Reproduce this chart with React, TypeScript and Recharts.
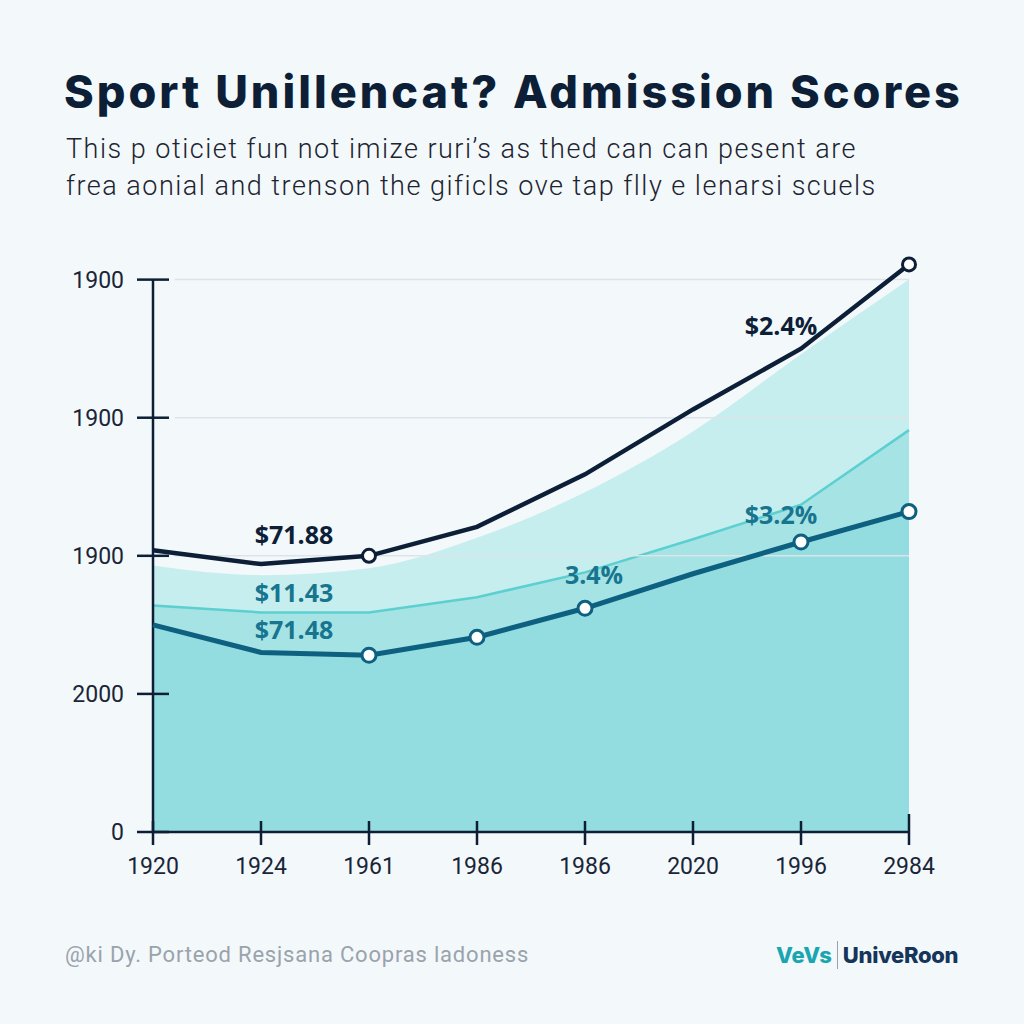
import { ComposedChart, Area, Line, XAxis, YAxis, ReferenceLine } from 'recharts';

const xLabels = ['1920', '1924', '1961', '1986', '1986', '2020', '1996', '2984'];
const yTickValues = [0, 1, 2, 3, 4];
const yTickLabels = ['0', '2000', '1900', '1900', '1900'];
const gridValues = [2, 3, 4];

// score series (axis units)
const topLine = [2.04, 1.94, 2.0, 2.21, 2.59, 3.06, 3.5, 4.11];
const lightBand = [1.93, 1.86, 1.91, 2.13, 2.46, 2.9, 3.46, 4.0];
const midLine = [1.64, 1.59, 1.59, 1.7, 1.88, 2.12, 2.37, 2.91];
const lowLine = [1.5, 1.3, 1.28, 1.41, 1.62, 1.87, 2.1, 2.32];

const topDots = [2, 7];
const lowDots = [2, 3, 4, 6, 7];

const NAVY = '#0c1f36';
const TEAL_DARK = '#0d607f';
const TEAL_MID = '#5ccfd0';
const LABEL_TEAL = '#17758f';

const data = xLabels.map((label, i) => ({
  i,
  label,
  top: topLine[i],
  band: lightBand[i],
  mid: midLine[i],
  low: lowLine[i],
}));

const YTick = ({ x, y, index }: any) => (
  <g>
    <line x1={x - 16} x2={x + 16} y1={y} y2={y} stroke={NAVY} strokeWidth={2.5} />
    <text x={x - 29} y={y + 8} textAnchor="end" fontSize={23} fill="#1a2538" fontFamily="Roboto, sans-serif">
      {yTickLabels[index]}
    </text>
  </g>
);

const XTick = ({ x, y, index }: any) => (
  <g>
    <line x1={x} x2={x} y1={y - (index === xLabels.length - 1 ? 18 : 11)} y2={y + 13} stroke={NAVY} strokeWidth={2.5} />
    <text x={x} y={y + 42} textAnchor="middle" fontSize={23} fill="#1a2538" fontFamily="Roboto, sans-serif">
      {xLabels[index]}
    </text>
  </g>
);

const makeDot = (stroke: string, which: number[], r: number) => (props: any) => {
  const { cx, cy, index } = props;
  if (!which.includes(index)) return <g key={`d-${index}`} />;
  return <circle key={`d-${index}`} cx={cx} cy={cy} r={r} fill="#ffffff" stroke={stroke} strokeWidth={3} />;
};

const labelStyle = { fontFamily: '"Open Sans", sans-serif', fontWeight: 700, fontSize: 25 };

function pointLabel(text: string, color: string, index: number, dx: number, dy: number) {
  return (props: any) => {
    if (props.index !== index) return null;
    return (
      <text key={`l-${text}`} x={props.x + dx} y={props.y + dy} textAnchor="middle" fill={color} style={labelStyle}>
        {text}
      </text>
    );
  };
}

export default function App() {
  return (
    <div style={{ position: 'absolute', left: 0, top: 0, width: 1024, height: 1024, background: '#f3f8fb', overflow: 'hidden' }}>
      <div style={{ position: 'absolute', left: 64, top: 64, fontFamily: 'Inter, sans-serif', fontWeight: 800, fontSize: 45, color: NAVY, letterSpacing: 3.0, whiteSpace: 'nowrap' }}>
        Sport Unillencat? Admission Scores
      </div>
      <div style={{ position: 'absolute', left: 66, top: 131, fontFamily: 'Roboto, sans-serif', fontWeight: 300, fontSize: 27, lineHeight: '37px', color: '#1d2430', letterSpacing: 1.5, whiteSpace: 'nowrap' }}>
        This p oticiet fun not imize ruri’s as thed can can pesent are
        <br />
        frea aonial and trenson the gificls ove tap flly e lenarsi scuels
      </div>

      <div style={{ position: 'absolute', left: 0, top: 0 }}>
        <ComposedChart width={1024} height={900} data={data} margin={{ top: 252, right: 115, left: 0, bottom: 18 }}>
          <XAxis
            dataKey="i"
            type="number"
            domain={[0, 7]}
            ticks={data.map((d) => d.i)}
            interval={0}
            height={50}
            tickSize={0}
            tickMargin={0}
            axisLine={{ stroke: NAVY, strokeWidth: 2.5 }}
            tick={<XTick />}
          />
          <YAxis
            type="number"
            domain={[0, 4.2]}
            ticks={yTickValues}
            width={153}
            tickSize={0}
            tickMargin={0}
            axisLine={false}
            tick={<YTick />}
          />
          {gridValues.map((v) => (
            <ReferenceLine key={`g-${v}`} segment={[{ x: 0.2, y: v }, { x: 7, y: v }]} stroke="#dde3e8" strokeWidth={1.5} />
          ))}
          <ReferenceLine segment={[{ x: 0, y: 0 }, { x: 0, y: 4 }]} stroke={NAVY} strokeWidth={2.5} />
          <Area dataKey="band" type="monotone" stroke="none" fill="#c7eeee" fillOpacity={1} isAnimationActive={false} />
          <Area
            dataKey="mid"
            type="linear"
            stroke={TEAL_MID}
            strokeWidth={2.5}
            fill="#a6e3e4"
            fillOpacity={1}
            isAnimationActive={false}
            label={pointLabel('$11.43', LABEL_TEAL, 1, 33, -10)}
          />
          <Area
            dataKey="low"
            type="linear"
            stroke="none"
            fill="#93dde0"
            fillOpacity={1}
            isAnimationActive={false}
          />
          <Line
            dataKey="low"
            type="linear"
            stroke={TEAL_DARK}
            strokeWidth={5}
            dot={makeDot(TEAL_DARK, lowDots, 7)}
            activeDot={false}
            isAnimationActive={false}
            label={pointLabel('$71.48', LABEL_TEAL, 1, 33, -13)}
          />
          <Line
            dataKey="mid"
            type="linear"
            stroke="none"
            dot={false}
            activeDot={false}
            isAnimationActive={false}
            label={pointLabel('3.4%', LABEL_TEAL, 4, 9, 12)}
          />
          <Line
            dataKey="low"
            type="linear"
            stroke="none"
            dot={false}
            activeDot={false}
            isAnimationActive={false}
            label={pointLabel('$3.2%', LABEL_TEAL, 6, -20, -18)}
          />
          <Line
            dataKey="top"
            type="linear"
            stroke={NAVY}
            strokeWidth={4.5}
            dot={makeDot(NAVY, topDots, 6.5)}
            activeDot={false}
            isAnimationActive={false}
            label={pointLabel('$71.88', NAVY, 1, 33, -20)}
          />
          <Line
            dataKey="top"
            type="linear"
            stroke="none"
            dot={false}
            activeDot={false}
            isAnimationActive={false}
            label={pointLabel('$2.4%', NAVY, 6, -20, -14)}
          />
        </ComposedChart>
      </div>

      <div style={{ position: 'absolute', left: 65, top: 942, fontFamily: 'Roboto, sans-serif', fontSize: 22, color: '#9aa3ab', letterSpacing: 0.8, whiteSpace: 'nowrap' }}>
        @ki Dy. Porteod Resjsana Coopras ladoness
      </div>
      <div style={{ position: 'absolute', left: 776, top: 941, fontFamily: 'Inter, sans-serif', fontWeight: 800, fontSize: 22, whiteSpace: 'nowrap', display: 'flex', alignItems: 'center' }}>
        <span style={{ color: '#1aa6b0' }}>VeVs</span>
        <span style={{ display: 'inline-block', width: 1, height: 28, background: '#9aa3ab', margin: '0 5px' }} />
        <span style={{ color: '#15355a', letterSpacing: -0.3 }}>UniveRoon</span>
      </div>
    </div>
  );
}
